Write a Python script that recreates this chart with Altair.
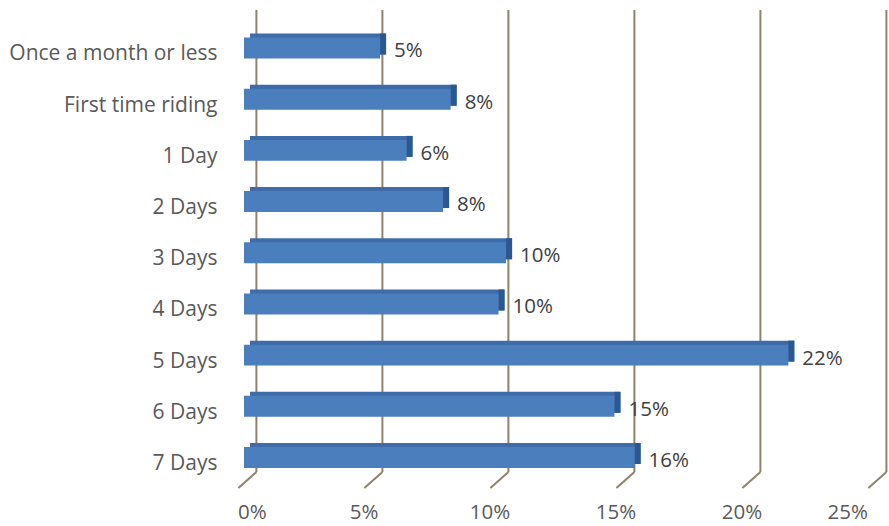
import altair as alt
import pandas as pd

categories = ["Once a month or less", "First time riding", "1 Day", "2 Days", "3 Days",
              "4 Days", "5 Days", "6 Days", "7 Days"]
values = [5.4, 8.2, 6.45, 7.9, 10.4, 10.1, 21.6, 14.7, 15.5]
labels = ["5%", "8%", "6%", "8%", "10%", "10%", "22%", "15%", "16%"]
ticks = [0, 5, 10, 15, 20, 25]

df = pd.DataFrame({"cat": categories, "val": values, "lab": labels})
gdf = pd.DataFrame({"t": ticks})

W, H = 630, 478
FONT = "Open Sans"
DEPTH_X, DEPTH_Y = 6, -4
GRID_SHIFT = 12.4
GRID_COLOR = "#8e836b"

xscale = alt.Scale(domain=[0, 25], nice=False, zero=True)
yscale = alt.Scale(domain=categories, paddingInner=0.59, paddingOuter=0.464, align=0.579)

xaxis = alt.Axis(values=ticks, labelExpr="datum.value + '%'", grid=False, domain=False, ticks=False,
                 labelFont=FONT, labelFontSize=20.5, labelColor="#595959", labelPadding=14,
                 labelOffset=-6.5, title=None)
yaxis = alt.Axis(grid=False, domain=False, ticks=False, labelFont=FONT, labelFontSize=21,
                 labelColor="#595959", labelPadding=27, labelOffset=6.5, title=None, labelLimit=400)

grid_v = alt.Chart(gdf).mark_rule(color=GRID_COLOR, strokeWidth=2, xOffset=GRID_SHIFT).encode(
    x=alt.X("t:Q", scale=xscale, axis=xaxis),
    y=alt.value(0), y2=alt.value(462),
)
grid_d = alt.Chart(gdf).mark_rule(color=GRID_COLOR, strokeWidth=2, xOffset=GRID_SHIFT,
                                  x2Offset=GRID_SHIFT - 18).encode(
    x=alt.X("t:Q", scale=xscale),
    x2=alt.X2("t"),
    y=alt.value(462), y2=alt.value(478),
)

top_face = alt.Chart(df).mark_rect(color="#3f6ca8", xOffset=DEPTH_X, x2Offset=DEPTH_X,
                                   yOffset=DEPTH_Y, y2Offset=DEPTH_Y).encode(
    x=alt.X("val:Q", scale=xscale), x2=alt.value(0),
    y=alt.Y("cat:N", scale=yscale, sort=categories, axis=yaxis),
)
side_face = alt.Chart(df).mark_rect(color="#2c5890", x2Offset=DEPTH_X,
                                    yOffset=DEPTH_Y, y2Offset=DEPTH_Y).encode(
    x=alt.X("val:Q", scale=xscale), x2=alt.X2("val"),
    y=alt.Y("cat:N", scale=yscale, sort=categories),
)
front = alt.Chart(df).mark_rect(color="#4a7ebd").encode(
    x=alt.X("val:Q", scale=xscale), x2=alt.value(0),
    y=alt.Y("cat:N", scale=yscale, sort=categories),
)
text = alt.Chart(df).mark_text(align="left", baseline="middle", dx=14, dy=3.5, font=FONT,
                               fontSize=20.5, color="#404040").encode(
    x=alt.X("val:Q", scale=xscale),
    y=alt.Y("cat:N", scale=yscale, sort=categories),
    text="lab:N",
)

chart = alt.layer(grid_v, grid_d, top_face, side_face, front, text).properties(
    width=W, height=H,
    background="white",
    autosize=alt.AutoSizeParams(type="none"),
    padding={"left": 244, "top": 10, "right": 15, "bottom": 38},
).configure_view(stroke="transparent", strokeWidth=0).configure_axis(
    grid=False, domain=False, ticks=False
)

chart.save("out.html", embed_options={"renderer": "svg", "actions": False})
